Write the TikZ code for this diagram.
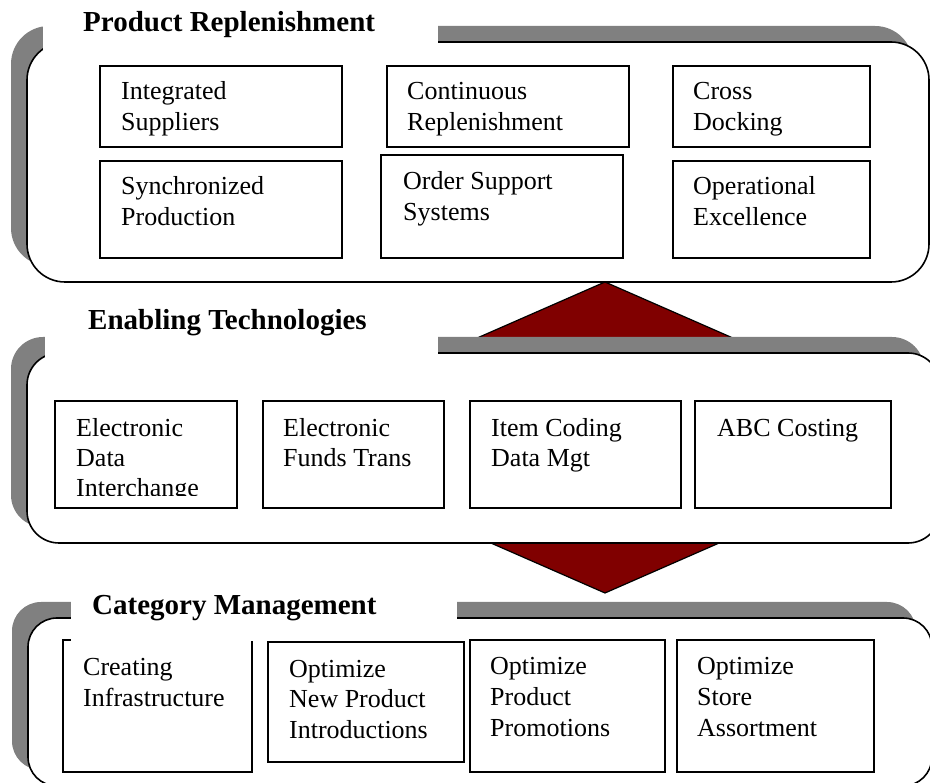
\documentclass[tikz,border=0pt]{standalone}
\usepackage{fontspec}
\setmainfont{Liberation Serif}
\usetikzlibrary{fit}
\definecolor{shadowgray}{HTML}{808080}
\definecolor{dkred}{HTML}{800000}
\newcommand\mlines[1]{\begin{tabular}[t]{@{}l@{}}#1\end{tabular}}
\tikzset{
  panel/.style={draw=black, line width=1.6pt, fill=white, inner sep=0pt},
  shadowbox/.style={fill=shadowgray},
  inbox/.style={draw=black, line width=1.5pt, fill=white, inner sep=0pt},
  cover/.style={fill=white},
  lbl/.style={anchor=base west, inner sep=0pt, font=\fontsize{26}{31}\selectfont},
  lblB/.style={anchor=base west, inner sep=0pt, font=\fontsize{26}{30}\selectfont},
  ttl/.style={anchor=base west, inner sep=0pt, font=\bfseries\fontsize{29}{34}\selectfont},
}
\begin{document}
\begin{tikzpicture}[x=1pt, y=-1pt]
\useasboundingbox (0,0) rectangle (930,783);
\clip (0,0) rectangle (930,783);

% diamond connector
\coordinate (dT) at (605,282);
\coordinate (dR) at (960,437.5);
\coordinate (dB) at (605,593);
\coordinate (dL) at (250,437.5);
\draw[fill=dkred, line width=1.2pt, line join=miter] (dT) -- (dR) -- (dB) -- (dL) -- cycle;

% panel 1
\fill[shadowbox, rounded corners=38pt] (11,26) rectangle (913,266);
\node[panel, rounded corners=38pt, fit={(27,42) (929,282)}] (p1) {};
% panel 2
\fill[shadowbox, rounded corners=32pt] (11,337) rectangle (924,527);
\node[panel, rounded corners=32pt, fit={(27,353) (940,543)}] (p2) {};
% panel 3
\fill[shadowbox, rounded corners=29pt] (12,602) rectangle (916,770);
\node[panel, rounded corners=29pt, fit={(28,618) (932,786)}] (p3) {};

% inner boxes panel 1
\node[inbox, fit={(100,66) (342,147)}] (bisup) {};
\node[inbox, fit={(387,66) (629,147)}] (bcont) {};
\node[inbox, fit={(673,66) (870,147)}] (bcross) {};
\node[inbox, fit={(100,161) (342,258)}] (bsync) {};
\node[inbox, fit={(381,155) (623,258)}] (border) {};
\node[inbox, fit={(673,161) (870,258)}] (boper) {};
% inner boxes panel 2
\node[inbox, fit={(55,401) (237,508)}] (bedi) {};
\node[inbox, fit={(263,401) (444,508)}] (beft) {};
\node[inbox, fit={(470,401) (681,508)}] (bitem) {};
\node[inbox, fit={(695,401) (891,508)}] (babc) {};
% inner boxes panel 3
\node[inbox, fit={(63,640) (252,772)}] (bcreat) {};
\node[inbox, fit={(268,642) (464,762)}] (bonp) {};
\node[inbox, fit={(470,640) (665,772)}] (bopp) {};
\node[inbox, fit={(677,640) (874,772)}] (bosa) {};

% title covers
\fill[cover] (43,0) rectangle (438,50);
\fill[cover] (45,295) rectangle (438,358);
\fill[cover] (71,585) rectangle (457,641);

% titles
\node[ttl] (t1) at (83,32) {Product Replenishment};
\node[ttl] (t2) at (88,330) {Enabling Technologies};
\node[ttl] (t3) at (92,615) {Category Management};

% labels panel 1
\node[lbl] (lisup) at (121,100) {\mlines{Integrated\\Suppliers}};
\node[lbl] (lcont) at (407,100) {\mlines{Continuous\\Replenishment}};
\node[lbl] (lcross) at (693,100) {\mlines{Cross\\Docking}};
\node[lbl] (lsync) at (121,195) {\mlines{Synchronized\\Production}};
\node[lbl] (lorder) at (403,190) {\mlines{Order Support\\Systems}};
\node[lbl] (loper) at (693,195) {\mlines{Operational\\Excellence}};

% labels panel 2
\begin{scope}
  \clip (55,380) rectangle (237,496);
  \node[lblB] (ledi) at (76,437) {\mlines{Electronic\\Data\\Interchange}};
\end{scope}
\node[lblB] (left) at (283,437) {\mlines{Electronic\\Funds Trans}};
\node[lblB] (litem) at (491,437) {\mlines{Item Coding\\Data Mgt}};
\node[lblB] (labc) at (717,437) {ABC Costing};

% labels panel 3
\node[lbl] (lcreat) at (83,675) {\mlines{Creating\\Infrastructure}};
\node[lbl] (lonp) at (289,677) {\mlines{Optimize\\New Product\\Introductions}};
\node[lbl] (lopp) at (490,674) {\mlines{Optimize\\Product\\Promotions}};
\node[lbl] (losa) at (697,674) {\mlines{Optimize\\Store\\Assortment}};
\end{tikzpicture}
\end{document}
